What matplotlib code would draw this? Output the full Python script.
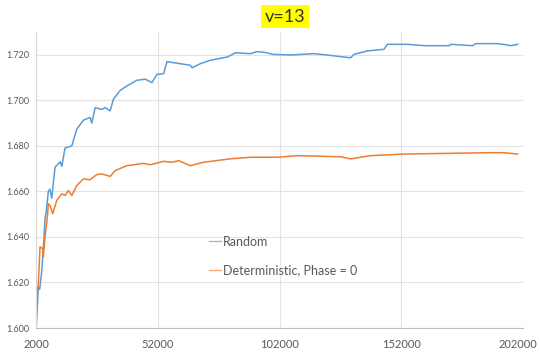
import matplotlib.pyplot as plt
from matplotlib.transforms import ScaledTranslation

# Random series
randX = [2000, 2950, 3500, 4350, 5300, 5700, 6300, 7060, 7700, 8450, 9800, 11900, 12600, 13900,
         16700, 18750, 21500, 24200, 24900, 26300, 29000, 30400, 32450, 33800, 36600, 39300,
         43400, 46850, 49600, 51700, 54400, 55800, 59900, 65400, 66100, 69500, 73600, 80500,
         83900, 90100, 92800, 96900, 99000, 106500, 116100, 121600, 128500, 131200, 132600,
         138100, 144900, 146300, 154500, 161400, 171700, 172400, 181300, 182600, 191600,
         195700, 197000, 199800]
randY = [1.598, 1.618, 1.617, 1.625, 1.640, 1.648, 1.652, 1.660, 1.661, 1.657, 1.6706, 1.673,
         1.671, 1.679, 1.680, 1.6874, 1.6913, 1.6925, 1.690, 1.6968, 1.696, 1.6968, 1.6954,
         1.7005, 1.7044, 1.7063, 1.7088, 1.7093, 1.7078, 1.7114, 1.7117, 1.717, 1.7163, 1.7154,
         1.7143, 1.7161, 1.7176, 1.719, 1.7209, 1.7205, 1.7214, 1.7209, 1.7202, 1.7199, 1.7205,
         1.7199, 1.719, 1.7187, 1.7202, 1.7217, 1.7224, 1.7246, 1.7246, 1.724, 1.724, 1.7246,
         1.724, 1.7249, 1.7249, 1.7243, 1.724, 1.7246]

# Deterministic series
detX = [2000, 2950, 3650, 4750, 5000, 5700, 6650, 7060, 7760, 8870, 10500, 12600, 13900, 15300,
        16700, 18750, 21500, 24200, 27000, 29000, 32450, 34500, 39300, 46200, 48900, 54400,
        57800, 60600, 65400, 70800, 81800, 90100, 101000, 109300, 120200, 127100, 131200,
        139400, 153100, 170900, 188800, 194100, 199800]
detY = [1.6093, 1.6196, 1.6356, 1.6349, 1.6312, 1.640, 1.6487, 1.6546, 1.6538, 1.6502, 1.656,
        1.6589, 1.6582, 1.6604, 1.6582, 1.6626, 1.6655, 1.6651, 1.6674, 1.6677, 1.6666, 1.6691,
        1.6713, 1.6723, 1.6717, 1.6732, 1.6728, 1.6735, 1.6713, 1.6728, 1.6743, 1.675, 1.675,
        1.6757, 1.6754, 1.6752, 1.6743, 1.6757, 1.6764, 1.6767, 1.677, 1.677, 1.6764]

xTicks = [2000, 52000, 102000, 152000, 202000]
yTicks = [1.600, 1.620, 1.640, 1.660, 1.680, 1.700, 1.720]

plt.rcParams['font.family'] = ['Lato', 'DejaVu Sans']
txt = '#595959'

fig = plt.figure(figsize=(5.4, 3.53), dpi=100)
ax = fig.add_axes([0.0667, 0.0708, 0.9018, 0.8385])

ax.plot(randX, randY, color='#5b9bd5', lw=1.1, label='Random')
ax.plot(detX, detY, color='#ed7d31', lw=1.1, label='Deterministic, Phase = 0')

ax.set_xlim(2000, 202000)
ax.set_ylim(1.600, 1.730)
ax.set_xticks(xTicks)
ax.set_xticklabels([str(v) for v in xTicks], fontsize=8, color=txt)
ax.set_yticks(yTicks)
ax.set_yticklabels(['%.3f' % v for v in yTicks], fontsize=6.5, color=txt)
ax.tick_params(length=0, pad=8)
ax.tick_params(axis='y', pad=5)
ax.grid(color='#e3e3e3', lw=0.8)
ax.set_axisbelow(True)
for s in ['top', 'right']:
    ax.spines[s].set_visible(False)
ax.spines['left'].set_color('#d9d9d9')
ax.spines['bottom'].set_color('#bfbfbf')

# keep the last x label inside the picture
last = ax.get_xticklabels()[-1]
last.set_transform(last.get_transform() + ScaledTranslation(-5 / 100, 0, fig.dpi_scale_trans))

leg = ax.legend(loc='upper left', bbox_to_anchor=(0.333, 0.35), frameon=False, fontsize=9,
                handlelength=0.9, handletextpad=0.2, labelspacing=1.35)
for t in leg.get_texts():
    t.set_color(txt)
for h in leg.get_lines():
    h.set_linewidth(0.9)
    h.set_alpha(0.7)

fig.text(0.528, 0.953, 'v=13', ha='center', va='center', fontsize=13, color='#333333',
         bbox=dict(facecolor='#ffff00', edgecolor='none', pad=2.5))

fig.savefig('out.png', dpi=100)
